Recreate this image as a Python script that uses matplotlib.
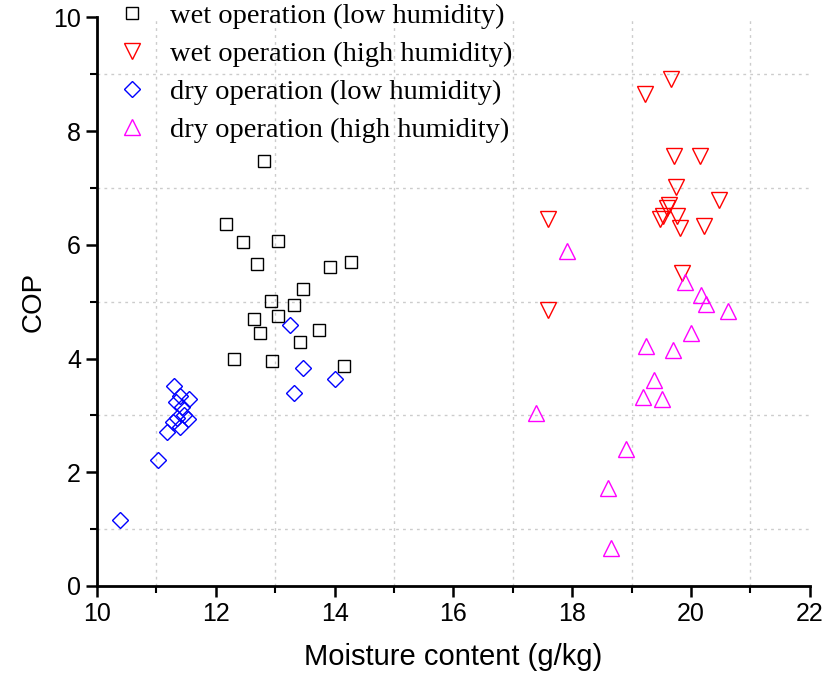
import matplotlib
matplotlib.use("Agg")
import matplotlib.pyplot as plt
from matplotlib.ticker import MultipleLocator

# wet operation (low humidity)
wet_low_x = [12.81, 12.17, 12.45, 13.04, 12.70, 13.92, 14.28, 13.47, 12.93, 13.32,
             13.05, 12.64, 12.75, 13.73, 13.41, 12.30, 12.95, 14.16]
wet_low_y = [7.48, 6.36, 6.05, 6.06, 5.66, 5.61, 5.70, 5.22, 5.01, 4.94,
             4.75, 4.69, 4.44, 4.50, 4.29, 4.00, 3.95, 3.87]

# wet operation (high humidity)
wet_high_x = [19.66, 19.23, 19.72, 20.15, 19.75, 20.47, 19.63, 19.60, 17.59, 19.52,
              19.48, 19.76, 19.81, 20.22, 19.85, 17.59]
wet_high_y = [8.92, 8.65, 7.56, 7.56, 7.01, 6.78, 6.70, 6.65, 6.46, 6.51,
              6.46, 6.51, 6.30, 6.33, 5.51, 4.86]

# dry operation (low humidity)
dry_low_x = [13.25, 13.47, 14.01, 13.31, 11.30, 11.40, 11.55, 11.33, 11.43, 11.47,
             11.35, 11.53, 11.40, 11.28, 11.17, 11.03, 10.38]
dry_low_y = [4.59, 3.84, 3.64, 3.39, 3.51, 3.34, 3.29, 3.24, 3.15, 3.00,
             2.95, 2.93, 2.79, 2.89, 2.71, 2.21, 1.16]

# dry operation (high humidity)
dry_high_x = [17.91, 19.90, 20.17, 20.26, 20.63, 20.00, 19.25, 19.70, 19.37, 19.19,
              19.51, 17.39, 18.91, 18.61, 18.65]
dry_high_y = [5.89, 5.34, 5.11, 4.95, 4.84, 4.45, 4.22, 4.15, 3.63, 3.33,
              3.28, 3.04, 2.41, 1.73, 0.66]

fig = plt.figure(figsize=(8.25, 6.86), dpi=100)
ax = fig.add_axes([0.1176, 0.1458, 0.864, 0.829])

ax.plot(wet_low_x, wet_low_y, 's', mfc='none', mec='black', ms=8, mew=1.0,
        label='wet operation (low humidity)')
ax.plot(wet_high_x, wet_high_y, 'v', mfc='none', mec='red', ms=11, mew=1.0,
        label='wet operation (high humidity)')
ax.plot(dry_low_x, dry_low_y, 'D', mfc='none', mec='blue', ms=8.5, mew=1.0,
        label='dry operation (low humidity)')
ax.plot(dry_high_x, dry_high_y, '^', mfc='none', mec='magenta', ms=11, mew=1.0,
        label='dry operation (high humidity)')

ax.set_xlim(10, 22)
ax.set_ylim(0, 10)
ax.xaxis.set_major_locator(MultipleLocator(2))
ax.xaxis.set_minor_locator(MultipleLocator(1))
ax.yaxis.set_major_locator(MultipleLocator(2))
ax.yaxis.set_minor_locator(MultipleLocator(1))

# grid only on the odd (minor) positions
ax.grid(True, which='minor', color='#cccccc', linestyle=(0, (2, 3)), linewidth=1.0)
ax.set_axisbelow(True)

for s in ['top', 'right']:
    ax.spines[s].set_visible(False)
for s in ['left', 'bottom']:
    ax.spines[s].set_linewidth(2)

ax.tick_params(which='major', direction='out', length=8, width=1.8,
               labelsize=18, labelfontfamily='Liberation Sans')
ax.tick_params(which='minor', direction='out', length=5, width=1.5)

ax.set_xlabel('Moisture content (g/kg)', fontsize=21, family='Liberation Sans', labelpad=12)
ax.set_ylabel('COP', fontsize=20, family='Liberation Sans', labelpad=5)

ax.legend(loc='upper left', bbox_to_anchor=(0.005, 1.055), frameon=False,
          prop={'family': 'Liberation Serif', 'size': 20.5},
          handlelength=1.0, handletextpad=0.85, labelspacing=0.42, borderaxespad=0.2)

fig.savefig('out.png', dpi=100)
